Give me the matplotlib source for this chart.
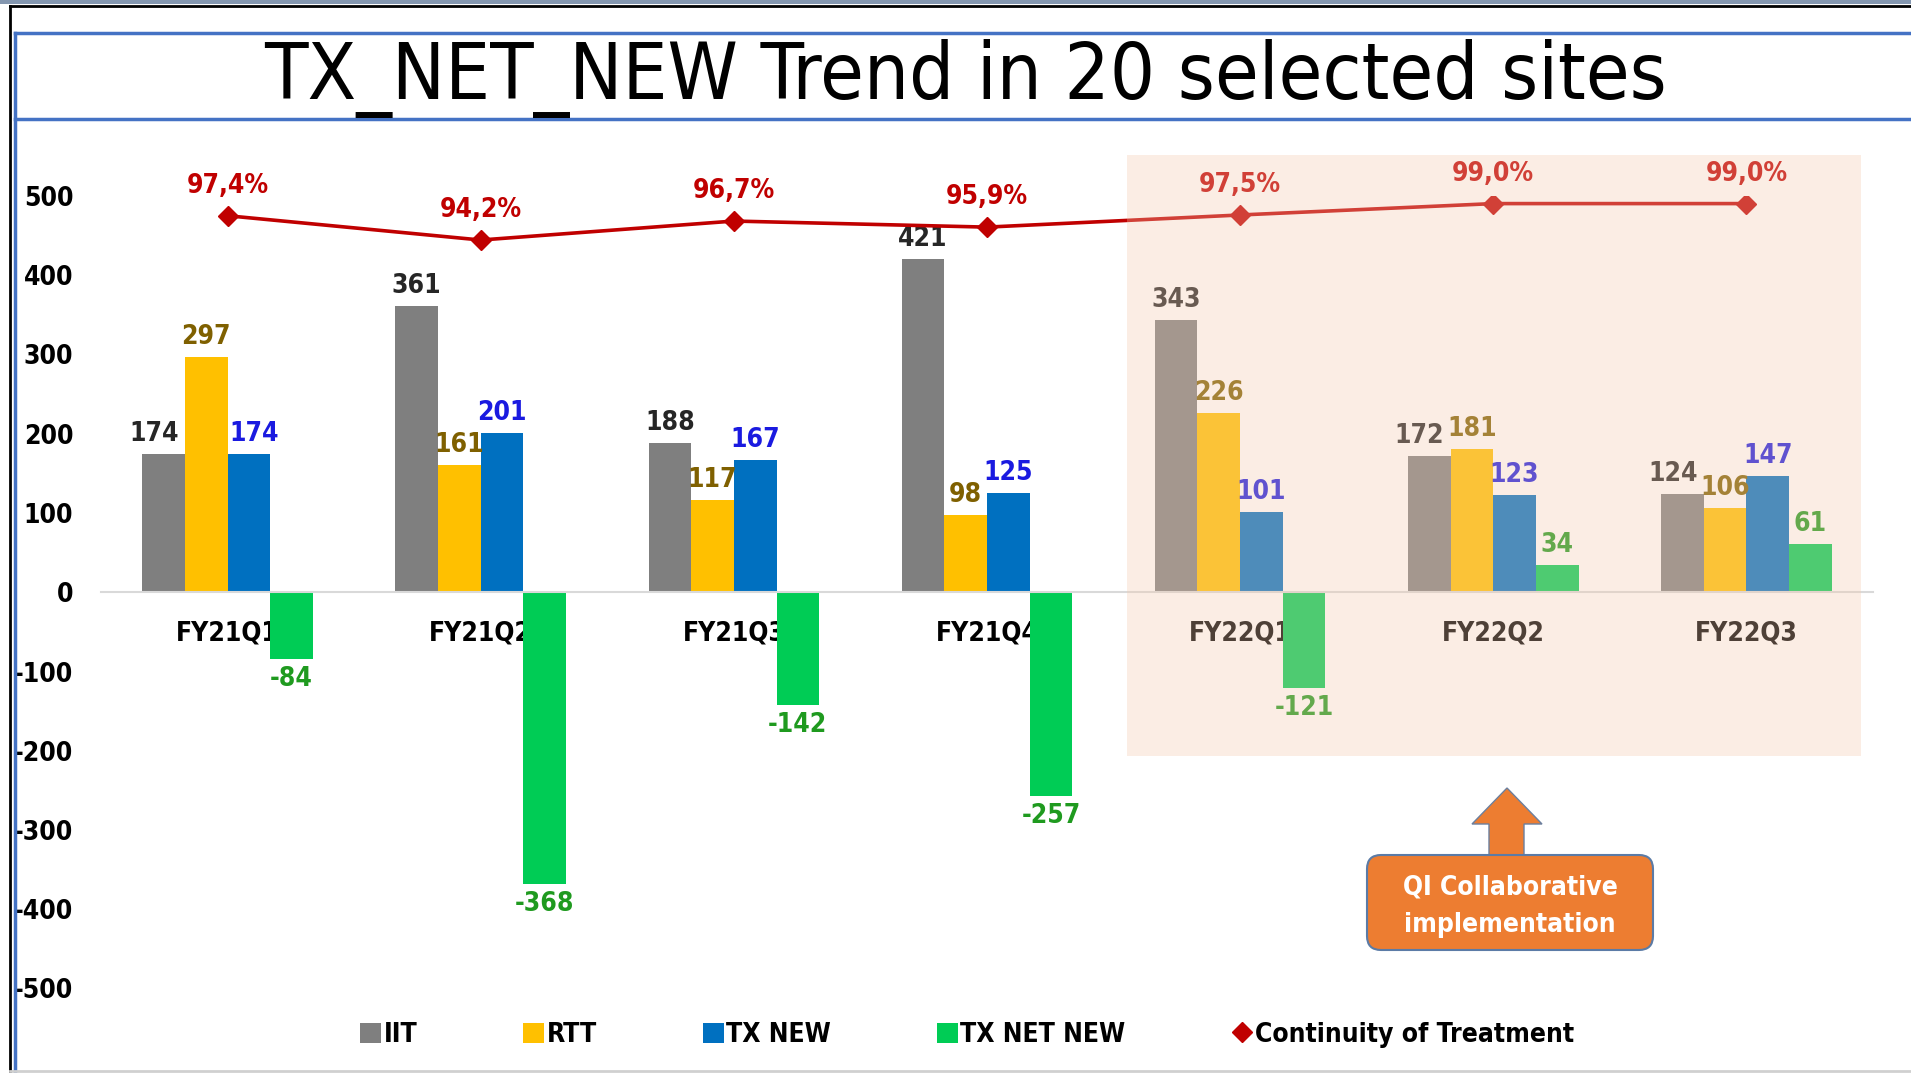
import numpy as np
import matplotlib.pyplot as plt
from matplotlib.patches import Rectangle, Patch, FancyBboxPatch, Polygon
from matplotlib.lines import Line2D

plt.rcParams['font.family'] = ['DejaVu Sans']
plt.rcParams['font.stretch'] = 'condensed'
plt.rcParams['axes.unicode_minus'] = False

quarters = ["FY21Q1", "FY21Q2", "FY21Q3", "FY21Q4", "FY22Q1", "FY22Q2", "FY22Q3"]
iit = [174, 361, 188, 421, 343, 172, 124]
rtt = [297, 161, 117, 98, 226, 181, 106]
tx_new = [174, 201, 167, 125, 101, 123, 147]
tx_net_new = [-84, -368, -142, -257, -121, 34, 61]
continuity = [97.4, 94.2, 96.7, 95.9, 97.5, 99.0, 99.0]

series_names = ["IIT", "RTT", "TX NEW", "TX NET NEW"]
bar_colors = ["#7F7F7F", "#FFC000", "#0070C0", "#00CC55"]
label_colors = ["#262626", "#7F6000", "#1A1AE0", "#1F9A1F"]
line_color = "#C00000"

W, H = 1911, 1073
fig = plt.figure(figsize=(W / 100, H / 100), dpi=100)

ax = fig.add_axes([101 / W, 1 - 988.5 / H, (1873 - 101) / W, (988.5 - 196) / H])
ax.patch.set_visible(False)
ax.spines['bottom'].set_position(('data', 0))
ax.spines['bottom'].set_color('#D9D9D9')
ax.spines['bottom'].set_linewidth(1.5)
for s in ['top', 'right', 'left']:
    ax.spines[s].set_visible(False)

x = np.arange(len(quarters))
w = 0.1685
fs = 19
labels = []
for i, (vals, col, lcol) in enumerate(zip([iit, rtt, tx_new, tx_net_new], bar_colors, label_colors)):
    bars = ax.bar(x + (i - 1.5) * w, vals, w, color=col, label=series_names[i], zorder=2)
    labels.append(ax.bar_label(bars, labels=[str(v) for v in vals], padding=5, color=lcol,
                               fontsize=fs, fontweight='bold'))

# nudge crowded labels apart, as the original chart does
for j in [0, 5, 6]:
    t = labels[0][j]
    t.xyann = (t.xyann[0] - 7, t.xyann[1])
t = labels[2][0]
t.xyann = (t.xyann[0] + 4, t.xyann[1])

ax.set_xlim(-0.5, len(quarters) - 0.5)
ax.set_ylim(-500, 500)
ax.set_yticks(np.arange(-500, 501, 100))
ax.set_yticklabels([str(v) for v in np.arange(-500, 501, 100)], fontsize=fs, fontweight='bold')
ax.set_xticks(x)
ax.set_xticklabels(quarters, fontsize=fs, fontweight='bold')
ax.tick_params(axis='x', length=0, pad=20)
ax.tick_params(axis='y', length=0, pad=20)

ax2 = ax.twinx()
ax2.set_ylim(-4.4, 100.0)
ax2.axis('off')
ax2.plot(x, continuity, color=line_color, lw=2.6, marker='D', ms=10, zorder=3)
for xi, p in zip(x, continuity):
    ax2.annotate(f"{p:.1f}%".replace('.', ','), (xi, p), xytext=(0, 12), textcoords='offset points',
                 ha='center', va='bottom', color=line_color, fontsize=fs, fontweight='bold',
                 annotation_clip=False)

# translucent highlight over the FY22 quarters
ax2.add_patch(Rectangle((3.553, -207), 6.452 - 3.553, 552 + 207, transform=ax.transData,
                        facecolor='#F5CAAE', alpha=0.32, edgecolor='none', zorder=10, clip_on=False))

# legend
handles = [Patch(facecolor=c, edgecolor='none') for c in bar_colors]
handles.append(Line2D([], [], color=line_color, marker='D', ms=10, lw=0))
fig.legend(handles, series_names + ["Continuity of Treatment"], loc='center',
           bbox_to_anchor=(0.506, 1 - 1035 / H), ncol=5, frameon=False,
           prop={'size': fs, 'weight': 'bold', 'stretch': 'condensed'}, handlelength=0.8,
           handleheight=0.8, handletextpad=0.1, columnspacing=4.0)

# frame, title box and callout
deco = fig.add_axes([0, 0, 1, 1], zorder=3)
deco.set_xlim(0, W)
deco.set_ylim(H, 0)
deco.axis('off')
deco.add_patch(Rectangle((0, 0), W, 3.5, facecolor='#8497B0', edgecolor='none'))
deco.plot([10, W], [5.5, 5.5], color='black', lw=2)
deco.plot([10, 10], [5.5, H], color='black', lw=2)
deco.plot([15, 15], [33, H], color='#4472C4', lw=2.5)
deco.plot([15, W], [33, 33], color='#4472C4', lw=2.5)
deco.plot([15, W], [119, 119], color='#4472C4', lw=2.5)
deco.plot([10, W], [1071, 1071], color='#D0D0D0', lw=2)
deco.text(966, 79, "TX_NET_NEW Trend in 20 selected sites", ha='center', va='center',
          fontsize=57, color='black')

deco.add_patch(Polygon([(1489, 857), (1489, 824), (1472, 824), (1507, 788), (1542, 824),
                        (1524, 824), (1524, 857)], closed=True, facecolor='#ED7D31',
                       edgecolor='#6B7F9E', lw=1))
deco.add_patch(FancyBboxPatch((1367, 855), 286, 95, boxstyle='round,pad=0,rounding_size=14',
                              facecolor='#ED7D31', edgecolor='#5B7BA6', lw=1.5))
deco.text(1510, 888, "QI Collaborative", ha='center', va='center', color='white',
          fontsize=fs, fontweight='bold')
deco.text(1510, 925, "implementation", ha='center', va='center', color='white',
          fontsize=fs, fontweight='bold')

fig.savefig("out.png", dpi=100)
